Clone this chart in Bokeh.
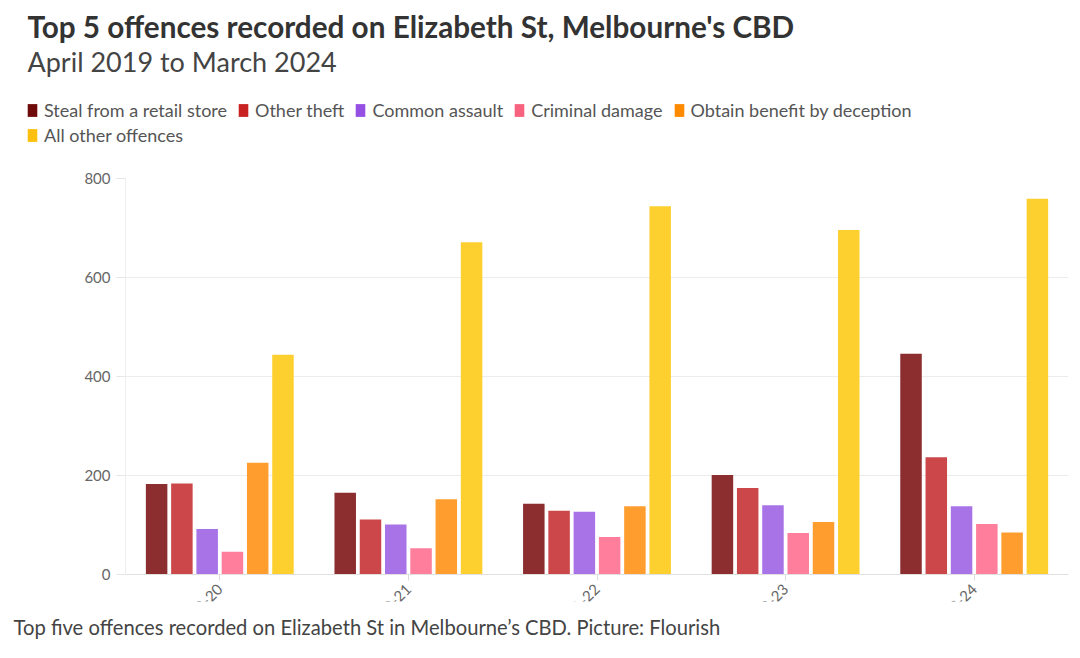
import math
from bokeh.plotting import figure
from bokeh.layouts import column
from bokeh.models import (ColumnDataSource, Range1d, Label, Legend, LegendItem,
                          FixedTicker)
from bokeh.transform import dodge
from bokeh.embed import file_html
from bokeh.resources import INLINE

# ---- data ----
years = ["2019-20", "2020-21", "2021-22", "2022-23", "2023-24"]
series = ["Steal from a retail store", "Other theft", "Common assault",
          "Criminal damage", "Obtain benefit by deception", "All other offences"]
steal_retail = [183, 165, 143, 201, 446]
other_theft = [184, 111, 129, 175, 237]
common_assault = [92, 101, 127, 140, 138]
criminal_damage = [46, 53, 76, 84, 102]
obtain_benefit = [226, 152, 138, 106, 85]
all_other = [444, 671, 744, 696, 759]
y_ticks = [0, 200, 400, 600, 800]

title_text = "Top 5 offences recorded on Elizabeth St, Melbourne's CBD"
subtitle_text = "April 2019 to March 2024"
caption_text = "Top five offences recorded on Elizabeth St in Melbourne\u2019s CBD. Picture: Flourish"

bar_colors = ["#8c2d2f", "#cb4749", "#a873e7", "#ff7e9c", "#ff9e2f", "#fdd030"]
legend_colors = ["#6e0a0a", "#c92222", "#9550e3", "#f7637f", "#ff8a00", "#fdc00f"]

FONT = "Lato"
W = 1080
HEAD_H = 168


def blank(fig):
    fig.axis.visible = False
    fig.grid.visible = False
    fig.outline_line_color = None
    fig.background_fill_color = "white"
    fig.border_fill_color = "white"
    fig.frame_align = False


# ---------- header: title, subtitle, legend ----------
head = figure(width=W, height=HEAD_H, x_range=Range1d(0, W), y_range=Range1d(HEAD_H, 0),
              output_backend="svg", toolbar_location=None, title_location=None,
              min_border=0, min_border_left=0, min_border_right=0,
              min_border_top=0, min_border_bottom=0)
blank(head)
head.add_layout(Label(x=27, y=26, text=title_text, text_font=FONT,
                      text_font_style="bold", text_font_size="29.7px",
                      text_color="#333333", text_baseline="alphabetic"))
head.add_layout(Label(x=27, y=61, text=subtitle_text, text_font=FONT,
                      text_font_style="normal", text_font_size="27px",
                      text_color="#444444", text_baseline="alphabetic"))

swatches = []
for i, s in enumerate(series):
    r = head.vbar(x=[-500], top=[0], bottom=[0], width=0, fill_color=legend_colors[i],
                  line_color=None)
    swatches.append(r)


def mk_legend(idx, loc):
    lg = Legend(items=[LegendItem(label=series[k], renderers=[swatches[k]]) for k in idx],
                location=loc, orientation="horizontal")
    lg.label_text_font = FONT
    lg.label_text_font_size = "18px"
    lg.label_text_color = "#555555"
    lg.glyph_width = 12
    lg.glyph_height = 16
    lg.label_height = 22
    lg.label_standoff = 6
    lg.spacing = 10
    lg.padding = 0
    lg.margin = 0
    lg.border_line_color = None
    lg.background_fill_alpha = 0
    return lg


head.add_layout(mk_legend([0, 1, 2, 3, 4], (26, 47)))
head.add_layout(mk_legend([5], (26, 22)))

# ---------- main chart ----------
cols = ["steal_retail", "other_theft", "common_assault", "criminal_damage",
        "obtain_benefit", "all_other"]
src = ColumnDataSource(dict(year=years, steal_retail=steal_retail,
                            other_theft=other_theft, common_assault=common_assault,
                            criminal_damage=criminal_damage,
                            obtain_benefit=obtain_benefit, all_other=all_other))

BT, FH, BB = 10, 398, 62
p = figure(x_range=years, y_range=Range1d(0, 800), width=W, height=BT + FH + BB,
           output_backend="svg", toolbar_location=None, title_location=None,
           min_border_left=125, min_border_right=12, min_border_top=BT,
           min_border_bottom=BB)
p.outline_line_color = None
p.background_fill_color = "white"
p.border_fill_color = "white"
p.frame_align = False

pitch, bw = 0.134, 0.114
for i, c in enumerate(cols):
    p.vbar(x=dodge("year", (i - 2.5) * pitch, range=p.x_range), top=c,
           width=bw, source=src, fill_color=bar_colors[i], line_color=None)

p.xgrid.grid_line_color = None
p.ygrid.grid_line_color = "#ececec"
p.yaxis.ticker = FixedTicker(ticks=y_ticks)
p.yaxis.axis_line_color = "#eeeeee"
p.yaxis.major_tick_line_color = "#e6e6e6"
p.yaxis.major_tick_out = 9
p.yaxis.major_tick_in = 0
p.yaxis.minor_tick_line_color = None
p.yaxis.major_label_standoff = 6
p.yaxis.major_label_text_font = FONT
p.yaxis.major_label_text_font_size = "15px"
p.yaxis.major_label_text_color = "#666666"

p.xaxis.axis_line_color = "#e0e0e0"
p.xaxis.major_tick_line_color = "#dddddd"
p.xaxis.major_tick_out = 6
p.xaxis.major_tick_in = 0
p.xaxis.major_label_orientation = math.pi / 4
p.xaxis.major_label_standoff = 6
p.xaxis.major_label_text_font = FONT
p.xaxis.major_label_text_font_size = "15px"
p.xaxis.major_label_text_color = "#666666"

# ---------- caption (overlaps the lower part of the rotated tick labels) ----------
CAP_TOP = 601
CAP_H = 658 - CAP_TOP
cap = figure(width=W, height=CAP_H, x_range=Range1d(0, W), y_range=Range1d(CAP_H, 0),
             output_backend="svg", toolbar_location=None, title_location=None,
             min_border=0, min_border_left=0, min_border_right=0,
             min_border_top=0, min_border_bottom=0)
blank(cap)
cap.add_layout(Label(x=13, y=626 - CAP_TOP, text=caption_text, text_font=FONT,
                     text_font_size="20.2px", text_color="#444444",
                     text_baseline="alphabetic"))
overlap = (HEAD_H + BT + FH + BB) - CAP_TOP
cap.margin = (-overlap, 0, 0, 0)

layout = column(head, p, cap, spacing=0)
open("out.html", "w").write(file_html(layout, INLINE))
